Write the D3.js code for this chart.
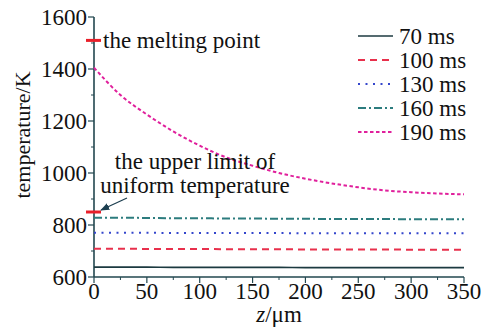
<!DOCTYPE html>
<html>
<head>
<meta charset="utf-8">
<title>temperature vs z</title>
<script src="https://cdn.jsdelivr.net/npm/d3@7"></script>
<style>
  body { margin: 0; background: #fff; }
  svg text { font-family: "Liberation Serif", "DejaVu Serif", "Times New Roman", serif; fill: #111; }
</style>
</head>
<body>
<script>
// depth positions (um)
var zValues = [0, 25, 50, 75, 100, 125, 150, 175, 200, 225, 250, 275, 300, 325, 350];

// temperature (K) per heating time
var t70  = [638, 638, 638, 637, 637, 637, 637, 637, 636, 636, 636, 636, 636, 636, 636];
var t100 = [709, 709, 708, 708, 708, 707, 707, 707, 706, 706, 706, 706, 705, 705, 705];
var t130 = [770, 770, 770, 769, 769, 769, 769, 769, 768, 768, 768, 768, 768, 768, 768];
var t160 = [828, 828, 827, 826, 826, 825, 825, 824, 824, 823, 823, 823, 822, 822, 822];
var t190 = [1405, 1300, 1225, 1160, 1105, 1060, 1028, 1000, 978, 960, 945, 933, 926, 921, 918];

var seriesNames = ["70 ms", "100 ms", "130 ms", "160 ms", "190 ms"];
var seriesColors = ["#1c3a40", "#e8304c", "#3446cc", "#2c7c7e", "#e0209c"];
var seriesDash = [null, "7,5", "2,5.5", "8,3,2,3", "3.5,2.5"];
var seriesValues = [t70, t100, t130, t160, t190];

var yTicks = [600, 800, 1000, 1200, 1400, 1600];
var xTicks = [0, 50, 100, 150, 200, 250, 300, 350];

var meltingPoint = 1510;
var uniformLimit = 850;

var W = 484, H = 329;
var axisColor = "#22474f";
var fs = "23px";

var x = d3.scaleLinear().domain([0, 350]).range([94, 464]);
var y = d3.scaleLinear().domain([600, 1600]).range([277, 17]);

var svg = d3.select("body").append("svg")
    .attr("width", W)
    .attr("height", H);

// axes
var gy = svg.append("g").attr("transform", "translate(" + x(0) + ",0)");
gy.append("line").attr("y1", y(600)).attr("y2", y(1600)).attr("stroke", axisColor).attr("stroke-width", 1.6);
gy.selectAll(".minor").data(d3.range(700, 1600, 200)).enter().append("line")
    .attr("x1", -3).attr("x2", 0)
    .attr("y1", function(d){ return y(d); }).attr("y2", function(d){ return y(d); })
    .attr("stroke", axisColor).attr("stroke-width", 1);
gy.selectAll(".major").data(yTicks).enter().append("line")
    .attr("x1", -6).attr("x2", 0)
    .attr("y1", function(d){ return y(d); }).attr("y2", function(d){ return y(d); })
    .attr("stroke", axisColor).attr("stroke-width", 1.2);
gy.selectAll(".lbl").data(yTicks).enter().append("text")
    .attr("x", -7)
    .attr("y", function(d){ return y(d) + 8; })
    .attr("text-anchor", "end")
    .style("font-size", fs)
    .text(function(d){ return d; });

var gx = svg.append("g").attr("transform", "translate(0," + y(600) + ")");
gx.append("line").attr("x1", x(0)).attr("x2", x(350)).attr("stroke", axisColor).attr("stroke-width", 1.6);
gx.selectAll(".minor").data(d3.range(25, 350, 50)).enter().append("line")
    .attr("x1", function(d){ return x(d); }).attr("x2", function(d){ return x(d); })
    .attr("y1", 0).attr("y2", 3)
    .attr("stroke", axisColor).attr("stroke-width", 1);
gx.selectAll(".major").data(xTicks).enter().append("line")
    .attr("x1", function(d){ return x(d); }).attr("x2", function(d){ return x(d); })
    .attr("y1", 0).attr("y2", 6)
    .attr("stroke", axisColor).attr("stroke-width", 1.2);
gx.selectAll(".lbl").data(xTicks).enter().append("text")
    .attr("x", function(d){ return x(d); })
    .attr("y", 22)
    .attr("text-anchor", "middle")
    .style("font-size", fs)
    .text(function(d){ return d; });

// axis titles
svg.append("text")
    .attr("transform", "translate(30,135) rotate(-90)")
    .attr("text-anchor", "middle")
    .style("font-size", "22px")
    .text("temperature/K");

var xt = svg.append("text")
    .attr("x", 279).attr("y", 322)
    .attr("text-anchor", "middle")
    .style("font-size", fs);
xt.append("tspan").style("font-style", "italic").text("z");
xt.append("tspan").text("/\u03bcm");

// data lines
var line = d3.line()
    .x(function(d, i){ return x(zValues[i]); })
    .y(function(d){ return y(d); })
    .curve(d3.curveMonotoneX);

svg.selectAll(".series").data(seriesValues).enter().append("path")
    .attr("d", function(d){ return line(d); })
    .attr("fill", "none")
    .attr("stroke", function(d, i){ return seriesColors[i]; })
    .attr("stroke-width", function(d, i){ return i == 0 ? 1.6 : 2; })
    .attr("stroke-dasharray", function(d, i){ return seriesDash[i]; });

// markers
svg.selectAll(".mark").data([meltingPoint, uniformLimit]).enter().append("line")
    .attr("x1", 86).attr("x2", 101)
    .attr("y1", function(d){ return y(d); }).attr("y2", function(d){ return y(d); })
    .attr("stroke", "#e8202a").attr("stroke-width", 3);

svg.append("text")
    .attr("x", 103).attr("y", y(meltingPoint) + 8)
    .style("font-size", fs)
    .text("the melting point");

svg.append("text")
    .attr("x", 195).attr("y", 169)
    .attr("text-anchor", "middle")
    .style("font-size", fs)
    .text("the upper limit of");
svg.append("text")
    .attr("x", 195).attr("y", 193)
    .attr("text-anchor", "middle")
    .style("font-size", fs)
    .text("uniform temperature");

// arrow to the uniform limit marker
svg.append("defs").append("marker")
    .attr("id", "arr")
    .attr("viewBox", "0 0 10 10")
    .attr("refX", 9).attr("refY", 5)
    .attr("markerWidth", 7).attr("markerHeight", 7)
    .attr("orient", "auto")
    .append("path").attr("d", "M0,1 L10,5 L0,9 Z").attr("fill", "#1d3f50");
svg.append("line")
    .attr("x1", 127).attr("y1", 198)
    .attr("x2", 101).attr("y2", y(uniformLimit) - 2)
    .attr("stroke", "#1d3f50").attr("stroke-width", 1.3)
    .attr("marker-end", "url(#arr)");

// legend
var leg = svg.append("g");
var rows = leg.selectAll("g").data(seriesNames).enter().append("g")
    .attr("transform", function(d, i){ return "translate(358," + (36 + i * 24) + ")"; });
rows.append("line")
    .attr("x1", 0).attr("x2", 35)
    .attr("stroke", function(d, i){ return seriesColors[i]; })
    .attr("stroke-width", function(d, i){ return i == 0 ? 1.6 : 2; })
    .attr("stroke-dasharray", function(d, i){ return seriesDash[i]; });
rows.append("text")
    .attr("x", 41).attr("y", 8)
    .style("font-size", fs)
    .text(function(d){ return d; });
</script>
</body>
</html>
